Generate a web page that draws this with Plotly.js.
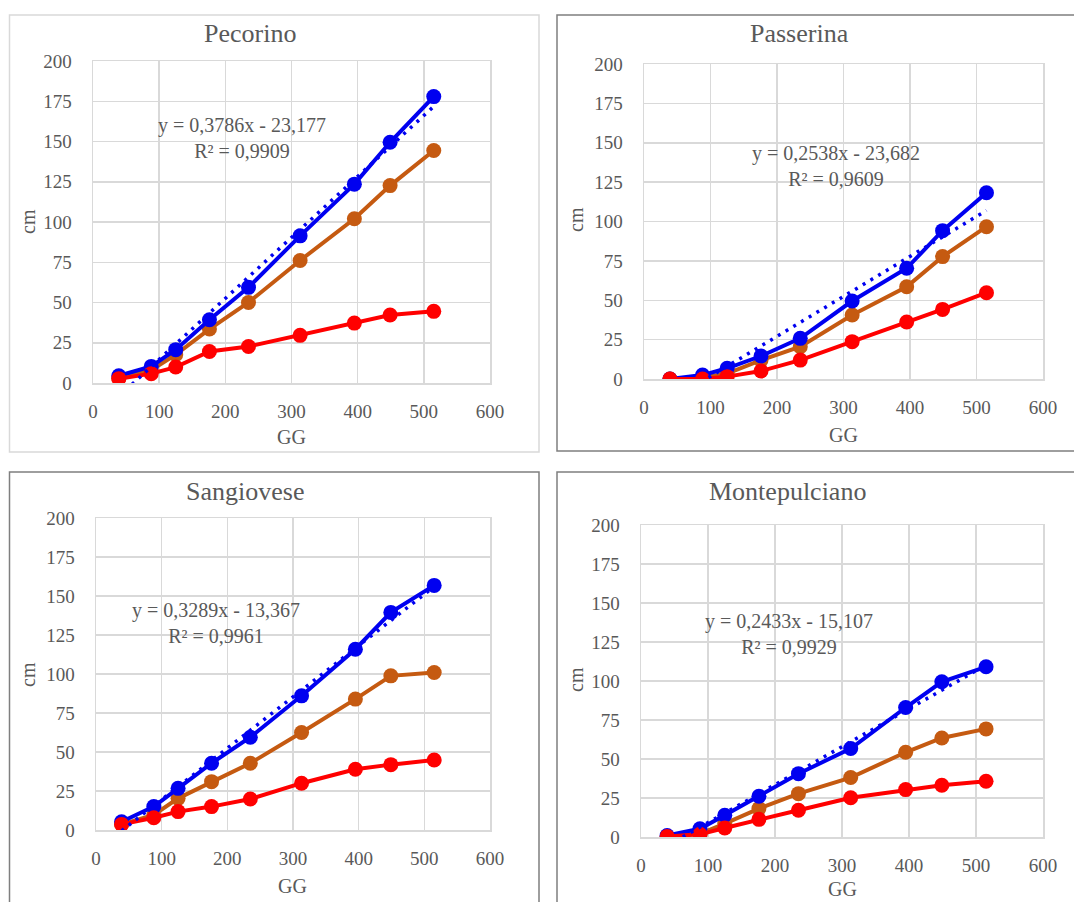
<!DOCTYPE html>
<html>
<head>
<meta charset="utf-8">
<script src="https://cdn.plot.ly/plotly-3.0.1.min.js"></script>
<style>html,body{margin:0;padding:0;background:#fff;}#chart{width:1074px;height:902px;}</style>
</head>
<body>
<div id="chart"></div>
<script>
// ---- data ----
const varieties = ['Pecorino', 'Passerina', 'Sangiovese', 'Montepulciano'];
const gg = [39, 88, 125, 176, 235, 313, 395, 449, 515];

const pecorinoBlue   = [4.5, 10.3, 20.7, 39.3, 59.4, 91.4, 123.5, 149.5, 177.9];
const pecorinoOrange = [3, 8, 17.6, 33.5, 50, 76.1, 102, 122.6, 144.4];
const pecorinoRed    = [2.7, 5.8, 9.9, 19.6, 22.7, 29.6, 37.2, 42.2, 44.5];

const passerinaBlue   = [0, 2.5, 6.8, 14.6, 25.8, 49.5, 70.3, 94.2, 118.3];
const passerinaOrange = [0, 1, 3.5, 12, 20.5, 40.6, 58.6, 77.7, 96.7];
const passerinaRed    = [0, 0, 1.5, 5.1, 12, 23.7, 36.2, 44.2, 54.8];

const sangioveseBlue   = [5.3, 15, 26.7, 42.8, 59.5, 86, 115.9, 139.5, 156.8];
const sangioveseOrange = [3.5, 9.6, 20.3, 31, 42.8, 62.5, 83.9, 98.8, 101];
const sangioveseRed    = [3.6, 7.9, 11.8, 15, 19.9, 30, 38.9, 41.9, 44.9];

const montepulcianoBlue   = [1, 5.3, 13.9, 26.1, 40.6, 56.7, 83, 99.5, 109.1];
const montepulcianoOrange = [0.5, 2, 8.6, 18.2, 27.8, 38.1, 54.3, 63.5, 69.3];
const montepulcianoRed    = [0.4, 1.7, 5.8, 11.3, 17.1, 25.2, 30.4, 33.2, 35.7];

// linear trend lines shown on the blue series (Excel equations)
const trendSlope     = [0.3786, 0.2538, 0.3289, 0.2433];
const trendIntercept = [-23.177, -23.682, -13.367, -15.107];
const trendEquation  = ['y = 0,3786x - 23,177', 'y = 0,2538x - 23,682', 'y = 0,3289x - 13,367', 'y = 0,2433x - 15,107'];
const trendR2        = ['R² = 0,9909', 'R² = 0,9609', 'R² = 0,9961', 'R² = 0,9929'];

const xTickVals = [0, 100, 200, 300, 400, 500, 600];
const yTickVals = [0, 25, 50, 75, 100, 125, 150, 175, 200];
const xTitle = 'GG';
const yTitle = 'cm';

// ---- layout / style ----
const W = 1074, H = 902;
const FONT = '"Liberation Serif", "Times New Roman", serif';
const TXT = '#595959';
const BLUE = '#0000f0', ORANGE = '#c55a11', RED = '#ff0000';

const blueSeries   = [pecorinoBlue, passerinaBlue, sangioveseBlue, montepulcianoBlue];
const orangeSeries = [pecorinoOrange, passerinaOrange, sangioveseOrange, montepulcianoOrange];
const redSeries    = [pecorinoRed, passerinaRed, sangioveseRed, montepulcianoRed];

// pixel geometry: plot [left,right,top,bottom], box [l,t,r,b]
const geom = [
  {plot:[93,490,61,383],  box:[9.5,15,539,452],   boxColor:'#d9d9d9', title:[250,33],  yt:[28,222],  xt:[291,437], eq:[225,152]},
  {plot:[644,1043,64,379], box:[557,15,1080,451],  boxColor:'#7f7f7f', title:[799,33],  yt:[576,220], xt:[843,435], eq:[289,135]},
  {plot:[96,490,518,830],  box:[9.5,472,539,910],  boxColor:'#7f7f7f', title:[245,492], yt:[28,675],  xt:[292,886], eq:[183,133]},
  {plot:[641,1043,525,837],box:[557,472,1080,910], boxColor:'#7f7f7f', title:[787,492], yt:[576,680], xt:[842,889], eq:[221,130]}
];

const px = v => v / W;
const py = v => 1 - v / H;

const data = [];
const layout = {
  width: W, height: H,
  margin: {l:0, r:0, t:0, b:0},
  paper_bgcolor: '#ffffff', plot_bgcolor: '#ffffff',
  showlegend: false,
  font: {family: FONT, color: TXT},
  annotations: [], shapes: []
};

varieties.forEach((name, i) => {
  const g = geom[i];
  const s = i === 0 ? '' : String(i + 1);
  const xa = 'x' + s, ya = 'y' + s;
  const axBase = {
    showgrid: true, gridcolor: '#d9d9d9', gridwidth: 1.5,
    showline: true, mirror: true, linecolor: '#d9d9d9', linewidth: 1.5,
    zeroline: false, ticks: '', fixedrange: true,
    tickfont: {family: FONT, size: 19, color: TXT}
  };
  layout['xaxis' + s] = Object.assign({}, axBase, {
    domain: [px(g.plot[0]), px(g.plot[1])], range: [0, 600],
    tickmode: 'array', tickvals: xTickVals, anchor: ya, ticklabelstandoff: 11
  });
  layout['yaxis' + s] = Object.assign({}, axBase, {
    domain: [py(g.plot[3]), py(g.plot[2])], range: [0, 200],
    tickmode: 'array', tickvals: yTickVals, anchor: xa, ticklabelstandoff: 16
  });

  const line = (y, color) => ({
    x: gg, y: y, xaxis: xa, yaxis: ya, type: 'scatter', mode: 'lines+markers',
    line: {color: color, width: 4}, marker: {color: color, size: 15},
    hoverinfo: 'x+y', cliponaxis: true
  });
  data.push(line(orangeSeries[i], ORANGE));
  data.push(line(blueSeries[i], BLUE));
  data.push(line(redSeries[i], RED));

  const x0 = gg[0], x1 = gg[gg.length - 1];
  data.push({
    x: [x0, x1],
    y: [trendSlope[i] * x0 + trendIntercept[i], trendSlope[i] * x1 + trendIntercept[i]],
    xaxis: xa, yaxis: ya, type: 'scatter', mode: 'lines',
    line: {color: BLUE, width: 3.5, dash: '3px,6px'}, hoverinfo: 'skip'
  });

  layout.annotations.push({
    xref: xa, yref: ya, x: g.eq[0], y: g.eq[1], xanchor: 'center', yanchor: 'middle',
    text: trendEquation[i] + '<br>' + trendR2[i], showarrow: false,
    font: {family: FONT, size: 20, color: TXT}
  });
  layout.annotations.push({
    xref: 'paper', yref: 'paper', x: px(g.title[0]), y: py(g.title[1]),
    xanchor: 'center', yanchor: 'middle', text: name, showarrow: false,
    font: {family: FONT, size: 26, color: TXT}
  });
  layout.annotations.push({
    xref: 'paper', yref: 'paper', x: px(g.xt[0]), y: py(g.xt[1]),
    xanchor: 'center', yanchor: 'middle', text: xTitle, showarrow: false,
    font: {family: FONT, size: 20, color: TXT}
  });
  layout.annotations.push({
    xref: 'paper', yref: 'paper', x: px(g.yt[0]), y: py(g.yt[1]),
    xanchor: 'center', yanchor: 'middle', text: yTitle, showarrow: false, textangle: -90,
    font: {family: FONT, size: 20, color: TXT}
  });
  layout.shapes.push({
    type: 'rect', xref: 'paper', yref: 'paper', layer: 'below',
    x0: px(g.box[0]), x1: px(g.box[2]), y0: py(g.box[3]), y1: py(g.box[1]),
    line: {color: g.boxColor, width: 1.5}, fillcolor: 'rgba(0,0,0,0)'
  });
});

Plotly.newPlot('chart', data, layout, {displayModeBar: false, staticPlot: true});
</script>
</body>
</html>
